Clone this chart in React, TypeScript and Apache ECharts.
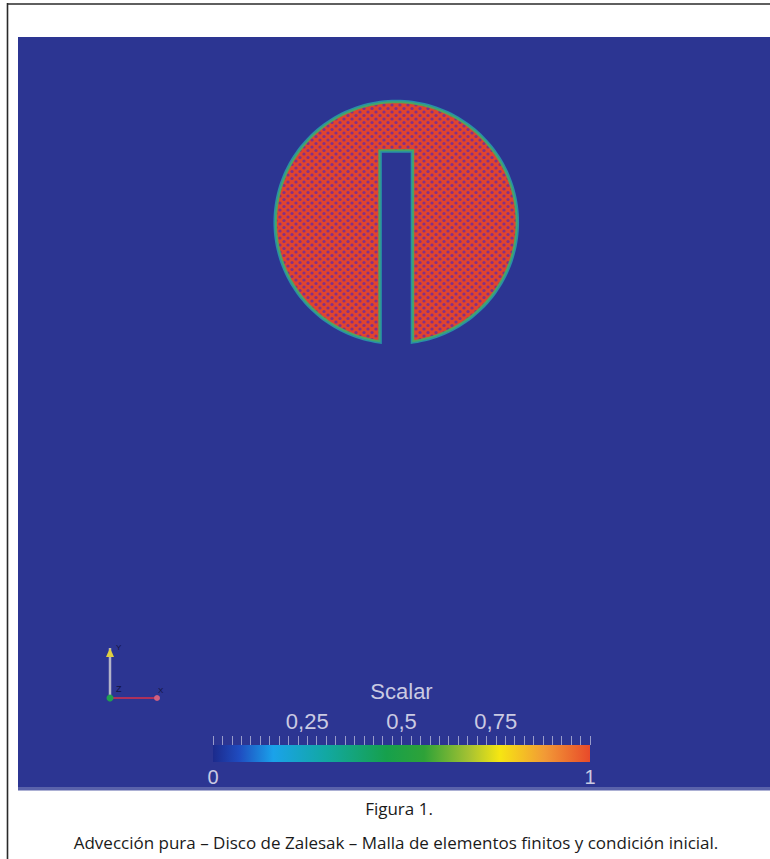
import React, { useEffect, useRef } from "react";
import * as echarts from "echarts";

// ---- Data ----
const DISC_CENTER = [0.503, 0.753];
const DISC_RADIUS = [0.16];
const SLOT_WIDTH = [0.045];
const SLOT_TOP = [0.849];
const DISC_VALUE = [1];

const COLORMAP_POSITIONS = [0, 0.07, 0.16, 0.3, 0.46, 0.56, 0.68, 0.76, 0.88, 1];
const COLORMAP_COLORS = ["#1c2a8c", "#1f4cc0", "#1aa2ea", "#12a8a2", "#16a04c", "#2ea238", "#a6c232", "#f6e612", "#f29a36", "#e84a2a"];

const COLORBAR_TITLE = "Scalar";
const COLORBAR_TICK_LABELS = [0.25, 0.5, 0.75];
const COLORBAR_END_LABELS = [0, 1];
const COLORBAR_TICK_STEP = [0.025];

const CAPTION_TITLE = "Figura 1.";
const CAPTION_TEXT = "Advección pura – Disco de Zalesak – Malla de elementos finitos y condición inicial.";

function makePattern() {
  const w = 8, h = 7;
  const c = document.createElement("canvas");
  c.width = w; c.height = h;
  const ctx = c.getContext("2d")!;
  ctx.fillStyle = "#e0442f";
  ctx.fillRect(0, 0, w, h);
  ctx.fillStyle = "rgba(115,45,150,0.85)";
  const pts = [[0, 0], [w, 0], [w / 2, h / 2], [0, h], [w, h]];
  pts.forEach(([x, y]) => { ctx.beginPath(); ctx.arc(x, y, 1.6, 0, Math.PI * 2); ctx.fill(); });
  return { image: c.toDataURL(), imageWidth: w, imageHeight: h, repeat: "repeat" };
}

const fmtComma = (v: number) => String(v).replace(".", ",");
const FONT = "Liberation Sans, Arial, sans-serif";

export default function App() {
  const ref = useRef<HTMLDivElement>(null);
  useEffect(() => {
    const chart = echarts.init(ref.current!, null, { renderer: "svg" });
    const pattern = makePattern();
    const labelColor = "#cacae2";
    const option: any = {
      animation: false,
      backgroundColor: "#ffffff",
      grid: [
        { left: 18, top: 37, width: 752, height: 750, show: true, backgroundColor: "#2c3592", borderWidth: 0 },
        { left: 213, top: 745, width: 377, height: 17, show: false },
        { left: 213, top: 736, width: 377, height: 9, show: false },
      ],
      xAxis: [
        { gridIndex: 0, type: "value", min: 0, max: 1, show: false },
        {
          gridIndex: 1, type: "value", min: 0, max: 1, interval: 0.25, position: "top",
          axisLine: { show: false }, splitLine: { show: false }, axisTick: { show: false },
          axisLabel: {
            show: true, color: labelColor, fontSize: 22, fontFamily: FONT, margin: 13,
            showMinLabel: true, showMaxLabel: true,
            formatter: (v: number) => {
              const hit = COLORBAR_TICK_LABELS.find((t) => Math.abs(t - v) < 1e-6);
              return hit !== undefined ? fmtComma(hit) : "";
            },
          },
          name: COLORBAR_TITLE, nameLocation: "middle", nameGap: 43,
          nameTextStyle: { color: labelColor, fontSize: 22, fontFamily: FONT },
        },
        {
          gridIndex: 1, type: "value", min: 0, max: 1, interval: 1, position: "bottom",
          axisLine: { show: false }, axisTick: { show: false }, splitLine: { show: false },
          axisLabel: {
            show: true, color: labelColor, fontSize: 20, fontFamily: FONT, margin: 5,
            showMinLabel: true, showMaxLabel: true,
            formatter: (v: number) => (COLORBAR_END_LABELS.includes(v) ? String(v) : ""),
          },
        },
        {
          gridIndex: 2, type: "value", min: 0, max: 1, interval: COLORBAR_TICK_STEP[0],
          axisLine: { show: false }, axisTick: { show: false }, axisLabel: { show: false },
          splitLine: { show: true, lineStyle: { color: "rgba(210,210,232,0.65)", width: 1 } },
        },
      ],
      yAxis: [
        { gridIndex: 0, type: "value", min: 0, max: 1, show: false },
        { gridIndex: 1, type: "value", min: 0, max: 1, show: false },
        { gridIndex: 2, type: "value", min: 0, max: 1, show: false },
      ],
      series: [
        {
          type: "custom", xAxisIndex: 0, yAxisIndex: 0, clip: false,
          data: [[DISC_CENTER[0], DISC_CENTER[1], DISC_RADIUS[0], SLOT_WIDTH[0], SLOT_TOP[0], DISC_VALUE[0]]],
          renderItem: (params: any, api: any) => {
            const cx = api.value(0), cy = api.value(1), r = api.value(2), sw = api.value(3), top = api.value(4);
            const hw = sw / 2;
            const a0 = Math.asin(hw / r);
            const start = -Math.PI / 2 + a0;
            const end = 1.5 * Math.PI - a0;
            const pts: number[][] = [];
            const n = 180;
            for (let i = 0; i <= n; i++) {
              const a = start + (end - start) * (i / n);
              pts.push(api.coord([cx + r * Math.cos(a), cy + r * Math.sin(a)]));
            }
            pts.push(api.coord([cx - hw, top]));
            pts.push(api.coord([cx + hw, top]));
            return {
              type: "group",
              children: [
                { type: "polygon", shape: { points: pts }, style: { fill: "none", stroke: "rgba(40,160,170,0.85)", lineWidth: 5 } },
                { type: "polygon", shape: { points: pts }, style: { fill: pattern, stroke: "rgba(70,170,100,0.9)", lineWidth: 2 } },
              ],
            };
          },
        },
        {
          type: "custom", xAxisIndex: 1, yAxisIndex: 1, clip: false,
          data: [[0, 1]],
          renderItem: (params: any, api: any) => {
            const p0 = api.coord([api.value(0), 0]);
            const p1 = api.coord([api.value(1), 1]);
            return {
              type: "rect",
              shape: { x: p0[0], y: p1[1], width: p1[0] - p0[0], height: p0[1] - p1[1] },
              style: {
                fill: new echarts.graphic.LinearGradient(0, 0, 1, 0,
                  COLORMAP_POSITIONS.map((o, i) => ({ offset: o, color: COLORMAP_COLORS[i] }))),
              },
            };
          },
        },
      ],
      graphic: [
        { type: "rect", shape: { x: 18, y: 787, width: 752, height: 3.5 }, style: { fill: "#5a62aa" } },
        { type: "line", shape: { x1: 7.5, y1: 3, x2: 7.5, y2: 859 }, style: { stroke: "#2a2a2a", lineWidth: 1.6 } },
        { type: "line", shape: { x1: 7, y1: 4, x2: 770, y2: 4 }, style: { stroke: "#2a2a2a", lineWidth: 1.6 } },
        // axes triad
        { type: "line", shape: { x1: 110, y1: 648, x2: 110, y2: 697 }, style: { stroke: "#b4b4c8", lineWidth: 2.5 } },
        { type: "polygon", shape: { points: [[106, 657], [114, 657], [110, 648]] }, style: { fill: "#e0d040" } },
        { type: "line", shape: { x1: 112, y1: 698, x2: 158, y2: 698 }, style: { stroke: "#d83048", lineWidth: 1.5 } },
        { type: "circle", shape: { cx: 157, cy: 698, r: 3 }, style: { fill: "#d06080" } },
        { type: "circle", shape: { cx: 110, cy: 698, r: 3.5 }, style: { fill: "#20a050" } },
        { type: "text", x: 116, y: 643, style: { text: "Y", fontSize: 8, fill: "#141440", fontFamily: "Liberation Sans" } },
        { type: "text", x: 116, y: 684, style: { text: "Z", fontSize: 9, fill: "#141440", fontFamily: "Liberation Sans" } },
        { type: "text", x: 158, y: 686, style: { text: "X", fontSize: 8, fill: "#141440", fontFamily: "Liberation Sans" } },
        // captions
        { type: "text", x: 399, y: 808, style: { text: CAPTION_TITLE, fontSize: 17, fill: "#1a1a1a", fontFamily: "Open Sans", align: "center", verticalAlign: "middle" } },
        { type: "text", x: 396, y: 842, style: { text: CAPTION_TEXT, fontSize: 17, fill: "#1a1a1a", fontFamily: "Open Sans", align: "center", verticalAlign: "middle" } },
      ],
    };
    chart.setOption(option);
    return () => chart.dispose();
  }, []);
  return <div ref={ref} style={{ position: "fixed", left: 0, top: 0, width: 770, height: 859 }} />;
}
